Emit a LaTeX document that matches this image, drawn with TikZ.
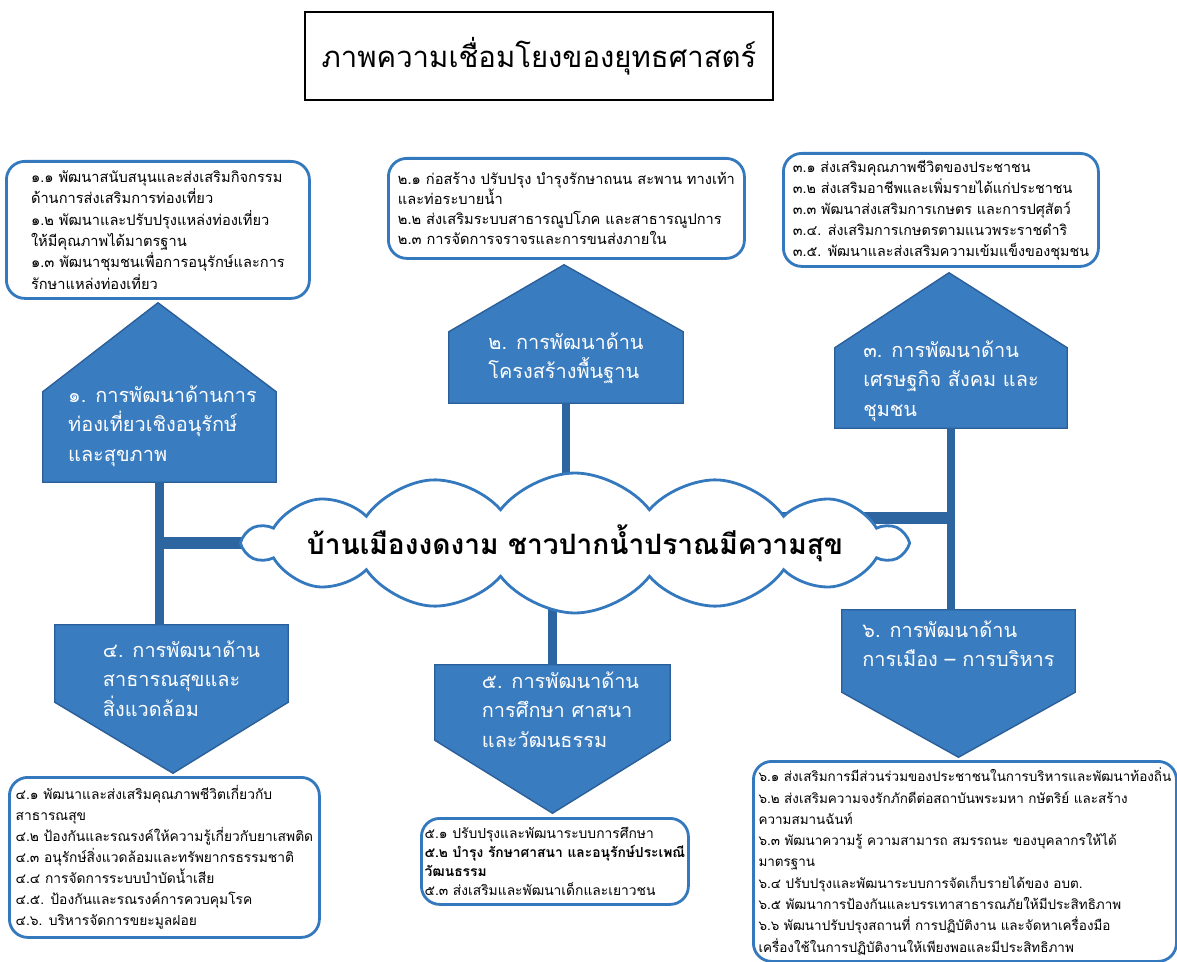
\documentclass[tikz,border=0pt]{standalone}
\usepackage{fontspec}
\setmainfont[Script=Thai]{Loma}
\usetikzlibrary{shapes.symbols,backgrounds,calc}
\definecolor{goalfill}{HTML}{3A7CC0}
\definecolor{goaledge}{HTML}{2B5F99}
\definecolor{linkblue}{HTML}{2D65A0}
\definecolor{boxblue}{HTML}{3479BE}

\begin{document}
\begin{tikzpicture}[x=0.03cm, y=-0.03cm, every node/.style={inner sep=0pt}]
\tikzset{goal/.style={minimum width=6.99cm}}
\tikzset{goaltext/.style={align=left, text=white, font=\fontsize{17}{25}\selectfont}}
\tikzset{goalshape/.style={fill=goalfill, draw=goaledge, line width=1.2pt}}
\tikzset{link/.style={draw=linkblue, line width=7.5pt}}
\tikzset{bar/.style={draw=linkblue, line width=11pt}}
\tikzset{plan/.style={draw=boxblue, line width=2.4pt, rounded corners=0.55cm, fill=white, align=left, anchor=north west}}
\useasboundingbox (0,0) rectangle (1177,962);

% title
\node[draw, line width=1.2pt, minimum width=14.04cm, minimum height=2.64cm, font=\fontsize{25}{30}\selectfont] (title) at (539,56) {ภาพความเชื่อมโยงของยุทธศาสตร์};

% centre
\node[cloud, cloud puffs=14, cloud puff arc=105, cloud ignores aspect, minimum width=19.8cm, minimum height=4.2cm, draw=boxblue, line width=2.4pt, fill=white, font=\fontsize{24}{28}\bfseries] (hub) at (575,543) {\makebox[8cm]{บ้านเมืองงดงาม ชาวปากน้ำปราณมีความสุข}};

% strategies
\node[goal, minimum height=2.7cm] (g1) at (159.5,437) {};
\node[goal, minimum width=7.02cm, minimum height=2.13cm] (g2) at (566,367.5) {};
\node[goal, minimum width=6.96cm, minimum height=2.4cm] (g3) at (951,388) {};
\node[goal, minimum height=2.31cm] (g4) at (171.5,663.5) {};
\node[goal, minimum width=7.05cm, minimum height=2.25cm] (g5) at (552.5,702.5) {};
\node[goal, minimum height=2.46cm] (g6) at (958.5,651) {};

\node[goaltext] (g1t) at ([shift={(3,-11)}]g1.center) {๑. การพัฒนาด้านการ\\ท่องเที่ยวเชิงอนุรักษ์\\และสุขภาพ};
\node[goaltext] (g2t) at ([shift={(0,-9)}]g2.center) {๒. การพัฒนาด้าน\\โครงสร้างพื้นฐาน};
\node[goaltext] (g3t) at ([shift={(0,-7)}]g3.center) {๓. การพัฒนาด้าน\\เศรษฐกิจ สังคม และ\\ชุมชน};
\node[goaltext] (g4t) at ([shift={(10,15)}]g4.center) {๔. การพัฒนาด้าน\\สาธารณสุขและ\\สิ่งแวดล้อม};
\node[goaltext] (g5t) at ([shift={(8,7)}]g5.center) {๕. การพัฒนาด้าน\\การศึกษา ศาสนา\\และวัฒนธรรม};
\node[goaltext] (g6t) at ([shift={(0,-7)}]g6.center) {๖. การพัฒนาด้าน\\การเมือง – การบริหาร};

\begin{scope}[on background layer]
\filldraw[goalshape] (g1.south west) -- (g1.north west) -- ($(g1.north)+(-1.5,-89)$) -- (g1.north east) -- (g1.south east) -- cycle;
\filldraw[goalshape] (g2.south west) -- (g2.north west) -- ($(g2.north)+(-2,-67)$) -- (g2.north east) -- (g2.south east) -- cycle;
\filldraw[goalshape] (g3.south west) -- (g3.north west) -- ($(g3.north)+(-2,-75)$) -- (g3.north east) -- (g3.south east) -- cycle;
\filldraw[goalshape] (g4.north west) -- (g4.south west) -- ($(g4.south)+(1.5,71)$) -- (g4.south east) -- (g4.north east) -- cycle;
\filldraw[goalshape] (g5.north west) -- (g5.south west) -- ($(g5.south)+(0,73)$) -- (g5.south east) -- (g5.north east) -- cycle;
\filldraw[goalshape] (g6.north west) -- (g6.south west) -- ($(g6.south)+(0,65)$) -- (g6.south east) -- (g6.north east) -- cycle;
% connectors
\draw[link] (g1.south) -- (g1.south |- g4.north);
\draw[bar] (hub.center) -- (hub.center -| g1.south);
\draw[link] (g2.south) -- (g2.south |- hub.center);
\draw[link] (hub.center -| g5.north) -- (g5.north);
\draw[link] (g3.south) -- (g3.south |- g6.north);
\draw[bar] ([yshift=0.75cm]hub.center) -- ([yshift=0.75cm]hub.center -| g3.south);
\end{scope}

% plans
\node[plan, minimum width=9.09cm, minimum height=4.11cm, font=\fontsize{12.5}{18.3}\selectfont] (b1) at (5,160) {๑.๑ พัฒนาสนับสนุนและส่งเสริมกิจกรรม\\ด้านการส่งเสริมการท่องเที่ยว\\๑.๒ พัฒนาและปรับปรุงแหล่งท่องเที่ยว\\ให้มีคุณภาพได้มาตรฐาน\\๑.๓ พัฒนาชุมชนเพื่อการอนุรักษ์และการ\\รักษาแหล่งท่องเที่ยว};
\node[plan, minimum width=10.68cm, minimum height=3cm, font=\fontsize{12.5}{17.3}\selectfont] (b2) at (387,157) {๒.๑ ก่อสร้าง ปรับปรุง บำรุงรักษาถนน สะพาน ทางเท้า\\และท่อระบายน้ำ\\๒.๒ ส่งเสริมระบบสาธารณูปโภค และสาธารณูปการ\\๒.๓ การจัดการจราจรและการขนส่งภายใน};
\node[plan, minimum width=9.45cm, minimum height=3.39cm, font=\fontsize{12.2}{17.9}\selectfont] (b3) at (782,152) {๓.๑ ส่งเสริมคุณภาพชีวิตของประชาชน\\๓.๒ ส่งเสริมอาชีพและเพิ่มรายได้แก่ประชาชน\\๓.๓ พัฒนาส่งเสริมการเกษตร และการปศุสัตว์\\๓.๔. ส่งเสริมการเกษตรตามแนวพระราชดำริ\\๓.๕. พัฒนาและส่งเสริมความเข้มแข็งของชุมชน};
\node[plan, minimum width=9.3cm, minimum height=4.8cm, font=\fontsize{11.8}{18}\selectfont] (b4) at (8,776) {๔.๑ พัฒนาและส่งเสริมคุณภาพชีวิตเกี่ยวกับ\\สาธารณสุข\\๔.๒ ป้องกันและรณรงค์ให้ความรู้เกี่ยวกับยาเสพติด\\๔.๓ อนุรักษ์สิ่งแวดล้อมและทรัพยากรธรรมชาติ\\๔.๔ การจัดการระบบบำบัดน้ำเสีย\\๔.๕. ป้องกันและรณรงค์การควบคุมโรค\\๔.๖. บริหารจัดการขยะมูลฝอย};
\node[plan, minimum width=8.01cm, minimum height=2.58cm, font=\fontsize{11.8}{16.2}\selectfont] (b5) at (420,817) {๕.๑ ปรับปรุงและพัฒนาระบบการศึกษา\\\textbf{๕.๒ บำรุง รักษาศาสนา และอนุรักษ์ประเพณี}\\\textbf{วัฒนธรรม}\\๕.๓ ส่งเสริมและพัฒนาเด็กและเยาวชน};
\node[plan, minimum width=12.69cm, minimum height=6cm, font=\fontsize{11.5}{18.2}\selectfont] (b6) at (752,760) {๖.๑ ส่งเสริมการมีส่วนร่วมของประชาชนในการบริหารและพัฒนาท้องถิ่น\\๖.๒ ส่งเสริมความจงรักภักดีต่อสถาบันพระมหา กษัตริย์ และสร้าง\\ความสมานฉันท์\\๖.๓ พัฒนาความรู้ ความสามารถ สมรรถนะ ของบุคลากรให้ได้\\มาตรฐาน\\๖.๔ ปรับปรุงและพัฒนาระบบการจัดเก็บรายได้ของ อบต.\\๖.๕ พัฒนาการป้องกันและบรรเทาสาธารณภัยให้มีประสิทธิภาพ\\๖.๖ พัฒนาปรับปรุงสถานที่ การปฏิบัติงาน และจัดหาเครื่องมือ\\เครื่องใช้ในการปฏิบัติงานให้เพียงพอและมีประสิทธิภาพ};
\end{tikzpicture}
\end{document}
